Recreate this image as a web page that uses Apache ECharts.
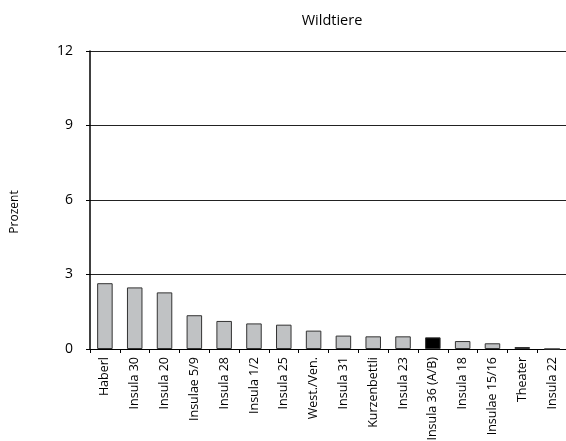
<!DOCTYPE html>
<html><head><meta charset="utf-8">
<script src="https://cdn.jsdelivr.net/npm/echarts@6/dist/echarts.min.js"></script>
<style>html,body{margin:0;padding:0;background:#fff}#c{width:566px;height:441px}</style>
</head><body><div id="c"></div>
<script>
const categories = ["Haberl","Insula 30","Insula 20","Insulae 5/9","Insula 28","Insula 1/2","Insula 25","West./Ven.","Insula 31","Kurzenbettli","Insula 23","Insula 36 (A/B)","Insula 18","Insulae 15/16","Theater","Insula 22"];
const values = [2.65,2.48,2.28,1.36,1.13,1.03,0.98,0.74,0.54,0.51,0.51,0.47,0.32,0.23,0.08,0];
const highlight = "Insula 36 (A/B)";
const yTicks = [0,3,6,9,12];
const font = "'Open Sans', 'Noto Sans', sans-serif";
const chart = echarts.init(document.getElementById('c'));
chart.setOption({
  animation:false,
  title:{text:"Wildtiere",left:327,top:8,textAlign:'center',textStyle:{fontFamily:font,fontSize:14.5,fontWeight:'normal',color:'#000'}},
  graphic:[{type:'text',x:9,y:212,rotation:Math.PI/2,
    style:{text:"Prozent",fontFamily:font,fontSize:12,fill:'#000',textAlign:'center',textVerticalAlign:'top'}}],
  grid:{left:90,right:-1,top:51,bottom:92,containLabel:false,outerBoundsMode:'none'},
  xAxis:{type:'category',data:categories,
    axisLine:{lineStyle:{color:'#000',width:1}},
    axisTick:{show:true,alignWithLabel:false,length:4,lineStyle:{color:'#000'}},
    axisLabel:{rotate:90,interval:0,fontFamily:font,fontSize:12.5,color:'#000',margin:8}},
  yAxis:{type:'value',min:yTicks[0],max:yTicks[yTicks.length-1],interval:3,
    axisLine:{show:true,lineStyle:{color:'#000',width:1.5}},
    axisTick:{show:true,inside:false,length:4,lineStyle:{color:'#000'}},
    axisLabel:{fontFamily:font,fontSize:14,color:'#000',margin:17}, 
    splitLine:{lineStyle:{color:'#222',width:1}}},
  series:[{type:'bar',barWidth:'52%',
    data:values.map((v,i)=>({value:v,itemStyle:{color:categories[i]===highlight?'#000':'#c0c2c4'}})),
    itemStyle:{borderColor:'#333',borderWidth:1}}]
});
</script></body></html>
